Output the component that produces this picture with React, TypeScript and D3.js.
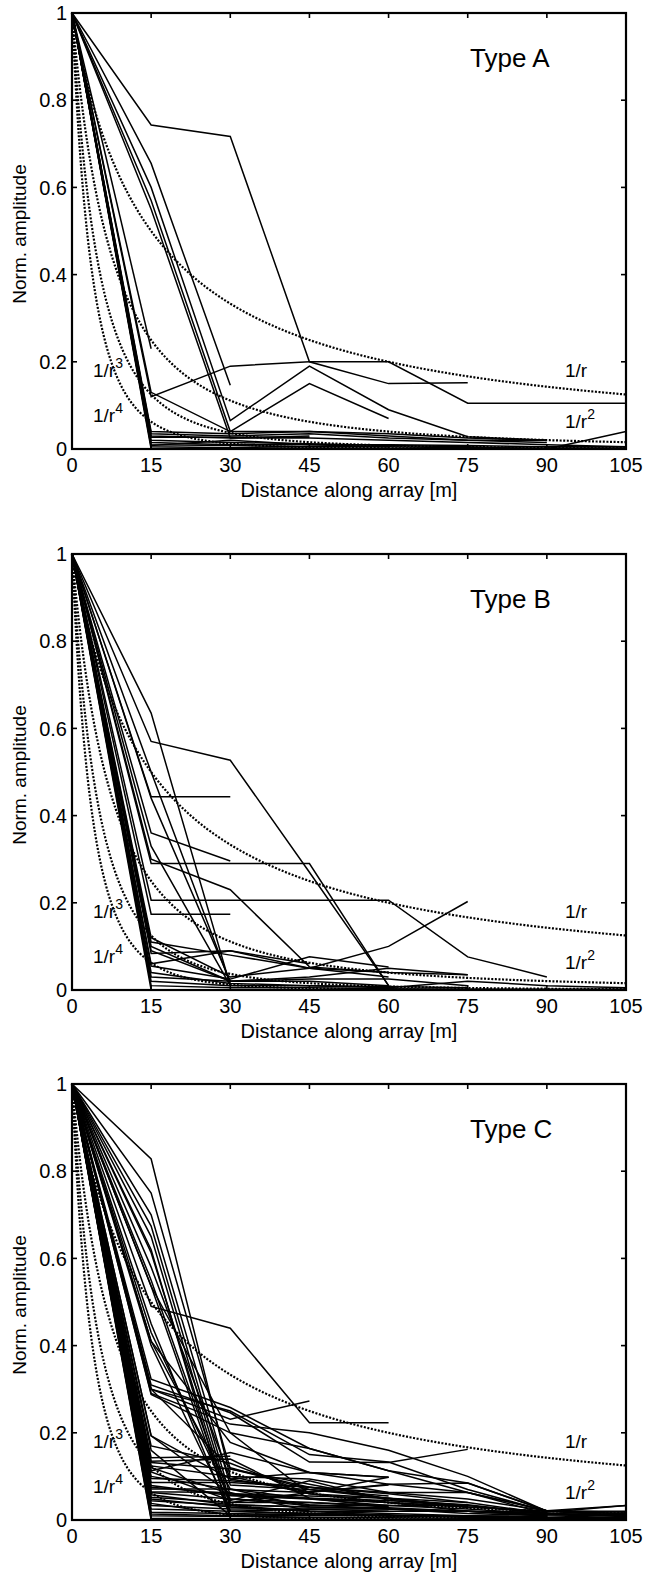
import React from "react";
import * as d3 from "d3";

// Measurement positions along the array [m]
const X_POS = [0, 15, 30, 45, 60, 75, 90, 105];
const X_TICKS = [0, 15, 30, 45, 60, 75, 90, 105];
const Y_TICKS = [0, 0.2, 0.4, 0.6, 0.8, 1];
const CURVE_EXPONENTS = [1, 2, 3, 4];
const R0 = 15; // reference spacing for 1/r^n curves

const TYPE_A: number[][] = [
  [1, 0.743, 0.717, 0.2, 0.15, 0.152],
  [1, 0.12, 0.19, 0.2, 0.2, 0.105, 0.105, 0.105],
  [1, 0.655, 0.146],
  [1, 0.6, 0.065, 0.19, 0.09, 0.028, 0.02],
  [1, 0.57, 0.04, 0.15, 0.07],
  [1, 0.55, 0.025, 0.03],
  [1, 0.23],
  [1, 0.13, 0.04, 0.04, 0.035, 0.025, 0.02],
  [1, 0.04, 0.035, 0.04, 0.03, 0.02, 0.015],
  [1, 0.027, 0.027, 0.027],
  [1, 0.03, 0.025, 0.025, 0.02, 0.015, 0.01, 0.005],
  [1, 0.02, 0.015, 0.012, 0.008, 0.005, 0.0, 0.04],
  [1, 0.01, 0.008, 0.005, 0.005, 0.003, 0.002, 0.002],
  [1, 0.005, 0.003, 0.002, 0.001, 0.001, 0.001, 0.001],
  [1, 0.015, 0.01, 0.01, 0.01, 0.008, 0.005, 0.005],
  [1, 0.0, 0.0, 0.0, 0.0, 0.0, 0.0, 0.0],
  [1, 0.008, 0.02, 0.01, 0.005],
  [1, 0.035, 0.03, 0.035, 0.025, 0.02, 0.02],
];

const TYPE_B: number[][] = [
  [1, 0.635, 0.01],
  [1, 0.57, 0.527, 0.27, 0.01],
  [1, 0.443, 0.443],
  [1, 0.36, 0.296],
  [1, 0.29, 0.29, 0.29, 0.01],
  [1, 0.206, 0.206, 0.206, 0.206, 0.076, 0.03],
  [1, 0.174, 0.174],
  [1, 0.3, 0.23, 0.053, 0.04],
  [1, 0.33, 0.01],
  [1, 0.44, 0.02],
  [1, 0.12, 0.03, 0.05, 0.1, 0.203],
  [1, 0.084, 0.09, 0.05, 0.04, 0.035],
  [1, 0.1, 0.02, 0.03, 0.05, 0.035],
  [1, 0.055, 0.025, 0.076, 0.053],
  [1, 0.03, 0.02, 0.025, 0.025, 0.01],
  [1, 0.02, 0.01, 0.01, 0.005, 0.02, 0.01, 0.005],
  [1, 0.01, 0.005, 0.005, 0.003, 0.002, 0.002, 0.002],
  [1, 0.0, 0.0, 0.0, 0.0, 0.0, 0.0, 0.0],
  [1, 0.06, 0.09, 0.06],
  [1, 0.11, 0.08, 0.05, 0.03],
  [1, 0.5, 0.015],
  [1, 0.09, 0.02, 0.02, 0.01],
  [1, 0.04, 0.015, 0.01, 0.008, 0.005],
];

const TYPE_C: number[][] = [
  [1, 0.828, 0.1, 0.06, 0.05, 0.03, 0.02, 0.015],
  [1, 0.75, 0.117, 0.075, 0.048],
  [1, 0.674, 0.056, 0.05, 0.04, 0.03],
  [1, 0.65, 0.04, 0.063, 0.098],
  [1, 0.613, 0.03, 0.02],
  [1, 0.58, 0.094, 0.065, 0.08],
  [1, 0.536, 0.02, 0.015, 0.01, 0.01],
  [1, 0.49, 0.44, 0.223, 0.223],
  [1, 0.43, 0.048, 0.04, 0.03],
  [1, 0.41, 0.071, 0.03, 0.025, 0.02, 0.015, 0.01],
  [1, 0.323, 0.258, 0.164, 0.113, 0.085, 0.021, 0.014],
  [1, 0.31, 0.246, 0.133, 0.132, 0.162],
  [1, 0.3, 0.231, 0.273],
  [1, 0.288, 0.2, 0.164, 0.113, 0.063, 0.021],
  [1, 0.193, 0.094, 0.109, 0.098],
  [1, 0.143, 0.146],
  [1, 0.113, 0.155, 0.109, 0.082, 0.085, 0.021, 0.033],
  [1, 0.124, 0.1, 0.094, 0.063, 0.048, 0.021, 0.01],
  [1, 0.132, 0.117, 0.082, 0.048, 0.033],
  [1, 0.1, 0.07, 0.063, 0.082, 0.063, 0.014],
  [1, 0.086, 0.086, 0.075, 0.063, 0.063, 0.021, 0.018],
  [1, 0.079, 0.056, 0.048, 0.033],
  [1, 0.071, 0.071, 0.048, 0.04, 0.03, 0.02, 0.02],
  [1, 0.063, 0.048, 0.033, 0.033, 0.033, 0.014, 0.01],
  [1, 0.052, 0.04, 0.04, 0.033, 0.025, 0.014],
  [1, 0.044, 0.033, 0.02, 0.02, 0.02, 0.01, 0.005],
  [1, 0.033, 0.025, 0.025, 0.025, 0.015, 0.01],
  [1, 0.025, 0.02, 0.015, 0.01, 0.01, 0.005, 0.005],
  [1, 0.018, 0.015, 0.012, 0.01, 0.008, 0.005, 0.004],
  [1, 0.01, 0.008, 0.006, 0.005, 0.004, 0.003, 0.002],
  [1, 0.004, 0.003, 0.002, 0.002, 0.002, 0.001, 0.001],
  [1, 0.0, 0.0, 0.0, 0.0, 0.0, 0.0, 0.0],
  [1, 0.193, 0.06, 0.055, 0.05, 0.04],
  [1, 0.41, 0.178, 0.109, 0.098],
  [1, 0.536, 0.2, 0.06],
  [1, 0.45, 0.01],
  [1, 0.62, 0.005],
  [1, 0.7, 0.08, 0.07, 0.055],
  [1, 0.3, 0.25, 0.15, 0.133, 0.07, 0.02, 0.01],
  [1, 0.16, 0.01, 0.005],
  [1, 0.065, 0.063, 0.02, 0.01],
  [1, 0.17, 0.13, 0.06, 0.04, 0.02, 0.018, 0.033],
  [1, 0.11, 0.045, 0.09, 0.045, 0.03],
  [1, 0.095, 0.09, 0.075, 0.06, 0.04, 0.015, 0.012],
  [1, 0.075, 0.06, 0.05, 0.045, 0.035, 0.015],
  [1, 0.058, 0.035, 0.03, 0.028, 0.02, 0.012, 0.008],
  [1, 0.048, 0.03, 0.02, 0.015, 0.01, 0.008],
  [1, 0.038, 0.012, 0.01, 0.01, 0.008, 0.006, 0.004],
  [1, 0.014, 0.01, 0.015, 0.012, 0.006, 0.003, 0.003],
  [1, 0.3, 0.12, 0.07, 0.05, 0.03],
  [1, 0.29, 0.22, 0.2, 0.16, 0.1, 0.02],
  [1, 0.55, 0.035, 0.03],
  [1, 0.4, 0.02, 0.025, 0.02],
  [1, 0.135, 0.14, 0.05, 0.03],
  [1, 0.12, 0.06, 0.035, 0.025, 0.02, 0.01],
];

const PANELS = [
  { top: 13, title: "Type A", lines: TYPE_A },
  { top: 554, title: "Type B", lines: TYPE_B },
  { top: 1084, title: "Type C", lines: TYPE_C },
];

const LEFT = 72;
const RIGHT = 626;
const H = 436;
const FONT = "'Liberation Sans', Arial, Helvetica, sans-serif";

function Panel({ top, title, lines }: { top: number; title: string; lines: number[][] }) {
  const x = d3.scaleLinear().domain([0, 105]).range([LEFT, RIGHT]);
  const y = d3.scaleLinear().domain([0, 1]).range([top + H, top]);
  const bottom = top + H;
  const dataLine = d3
    .line<number>()
    .x((_, i) => x(X_POS[i]))
    .y((d) => y(d));
  const xs = d3.range(0, 105.001, 0.25);
  const curve = (n: number) =>
    d3
      .line<number>()
      .x((d) => x(d))
      .y((d) => y(Math.pow(R0 / (d + R0), n)))(xs) as string;

  const sup = (base: string, s: string, tx: number, ty: number) => (
    <text x={tx} y={ty} fontSize={19} fontFamily={FONT}>
      {base}
      <tspan fontSize={14} dy={-9}>
        {s}
      </tspan>
    </text>
  );

  return (
    <g>
      {CURVE_EXPONENTS.map((n) => (
        <path
          key={"c" + n}
          d={curve(n)}
          fill="none"
          stroke="#000"
          strokeWidth={2.2}
          strokeDasharray="2 1.6"
        />
      ))}
      {lines.map((l, i) => (
        <path
          key={i}
          d={dataLine(l) as string}
          fill="none"
          stroke="#000"
          strokeWidth={1.5}
          strokeLinejoin="miter"
        />
      ))}
      {/* frame */}
      <rect x={LEFT} y={top} width={RIGHT - LEFT} height={H} fill="none" stroke="#000" strokeWidth={2.2} />
      {/* ticks */}
      {X_TICKS.map((t) => (
        <g key={"xt" + t}>
          <line x1={x(t)} x2={x(t)} y1={bottom} y2={bottom - 5} stroke="#000" strokeWidth={1.6} />
          <line x1={x(t)} x2={x(t)} y1={top} y2={top + 5} stroke="#000" strokeWidth={1.6} />
          <text x={x(t)} y={bottom + 23} textAnchor="middle" fontSize={20} fontFamily={FONT}>
            {t}
          </text>
        </g>
      ))}
      {Y_TICKS.map((t) => (
        <g key={"yt" + t}>
          <line x1={LEFT} x2={LEFT + 5} y1={y(t)} y2={y(t)} stroke="#000" strokeWidth={1.6} />
          <line x1={RIGHT} x2={RIGHT - 5} y1={y(t)} y2={y(t)} stroke="#000" strokeWidth={1.6} />
          <text x={LEFT - 5} y={y(t)} dy="0.36em" textAnchor="end" fontSize={20} fontFamily={FONT}>
            {t}
          </text>
        </g>
      ))}
      <text x={349} y={bottom + 48} textAnchor="middle" fontSize={20} fontFamily={FONT}>
        Distance along array [m]
      </text>
      <text
        transform={`translate(26,${top + 221}) rotate(-90)`}
        textAnchor="middle"
        fontSize={19}
        fontFamily={FONT}
      >
        Norm. amplitude
      </text>
      <text x={470} y={top + 54} fontSize={26} fontFamily={FONT}>
        {title}
      </text>
      <text x={565} y={top + 364} fontSize={19} fontFamily={FONT}>
        1/r
      </text>
      {sup("1/r", "2", 565, top + 415)}
      {sup("1/r", "3", 93, top + 364)}
      {sup("1/r", "4", 93, top + 409)}
    </g>
  );
}

export default function App() {
  return (
    <svg
      width={647}
      height={1572}
      style={{ position: "absolute", left: 0, top: 0, background: "#fff" }}
    >
      <rect x={0} y={0} width={647} height={1572} fill="#fff" />
      {PANELS.map((p) => (
        <Panel key={p.title} top={p.top} title={p.title} lines={p.lines} />
      ))}
    </svg>
  );
}
